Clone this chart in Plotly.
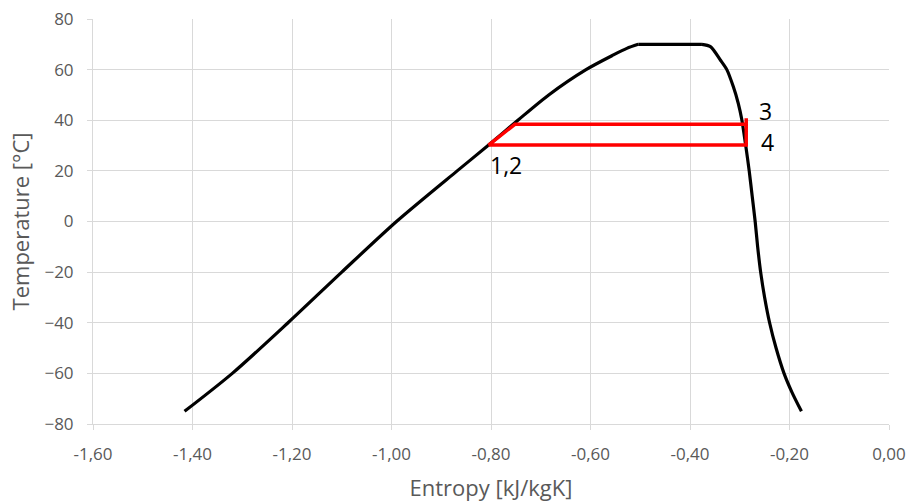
import plotly.graph_objects as go

# Saturation dome (entropy kJ/kgK, temperature °C)
dome_s = [-1.416, -1.320, -1.208, -1.100, -0.990, -0.868, -0.806, -0.746, -0.684,
          -0.609, -0.554, -0.527, -0.504, -0.376, -0.359, -0.339, -0.326, -0.313,
          -0.303, -0.296, -0.288, -0.281, -0.275, -0.269, -0.264, -0.258, -0.250,
          -0.240, -0.227, -0.211, -0.195, -0.176]
dome_T = [-75, -60, -40, -20, 0, 20, 30, 40, 50,
          60, 65.8, 68.4, 70, 70, 69.1, 63.8, 60, 53.3,
          46.7, 40.4, 30, 20, 10, 0, -10, -20, -30,
          -40, -50, -60, -67.5, -75]

# Cycle (red)
cycle_s = [-0.805, -0.752, -0.287, -0.287, -0.287, -0.805]
cycle_T = [30.2, 38.4, 38.4, 40.8, 30.2, 30.2]

# Point labels
label_text = ["3", "4", "1,2"]
label_s = [-0.249, -0.245, -0.769]
label_T = [43.5, 31.4, 22.3]

x_ticks = [-1.6, -1.4, -1.2, -1.0, -0.8, -0.6, -0.4, -0.2, 0.0]
x_tick_labels = ["-1,60", "-1,40", "-1,20", "-1,00", "-0,80", "-0,60", "-0,40", "-0,20", "0,00"]
y_ticks = [-80, -60, -40, -20, 0, 20, 40, 60, 80]

# split dome into rising branch, flat top, falling branch
i_top_a = dome_T.index(70)
i_top_b = i_top_a + 1
segments = [
    (dome_s[:i_top_a + 1], dome_T[:i_top_a + 1], "spline"),
    (dome_s[i_top_a:i_top_b + 1], dome_T[i_top_a:i_top_b + 1], "linear"),
    (dome_s[i_top_b:], dome_T[i_top_b:], "spline"),
]

fig = go.Figure()
for xs, ys, shp in segments:
    fig.add_trace(go.Scatter(x=xs, y=ys, mode="lines",
                             line=dict(color="black", width=3.2, shape=shp, smoothing=0.8),
                             showlegend=False, hoverinfo="skip"))
fig.add_trace(go.Scatter(x=cycle_s, y=cycle_T, mode="lines",
                         line=dict(color="#FF0000", width=3.5),
                         showlegend=False, hoverinfo="skip"))

for t, xs, ys in zip(label_text, label_s, label_T):
    fig.add_annotation(x=xs, y=ys, text=t, showarrow=False,
                       font=dict(family="Open Sans, sans-serif", size=23, color="black"))

fig.update_layout(
    width=909, height=504,
    margin=dict(l=93, r=20, t=19, b=80),
    paper_bgcolor="white", plot_bgcolor="white",
    font=dict(family="Open Sans, sans-serif", color="#595959"),
)
fig.update_xaxes(range=[-1.6, 0.0], tickvals=x_ticks, ticktext=x_tick_labels,
                 showgrid=True, gridcolor="#D9D9D9", gridwidth=1,
                 showline=True, linecolor="#D9D9D9", linewidth=1,
                 ticks="outside", ticklen=5, tickcolor="#D9D9D9",
                 ticklabelstandoff=10,
                 tickfont=dict(size=17, color="#595959"),
                 title=dict(text="Entropy [kJ/kgK]", font=dict(size=22, color="#595959"), standoff=16),
                 zeroline=False, automargin=False)
fig.update_yaxes(range=[-80, 80], tickvals=y_ticks,
                 showgrid=True, gridcolor="#D9D9D9", gridwidth=1,
                 showline=True, linecolor="#D9D9D9", linewidth=1,
                 ticks="outside", ticklen=5, tickcolor="#D9D9D9",
                 ticklabelstandoff=10,
                 tickfont=dict(size=17, color="#595959"),
                 title=dict(text="Temperature [°C]", font=dict(size=22, color="#595959"), standoff=8),
                 zeroline=False, automargin=False)

fig.write_html("out.html")
